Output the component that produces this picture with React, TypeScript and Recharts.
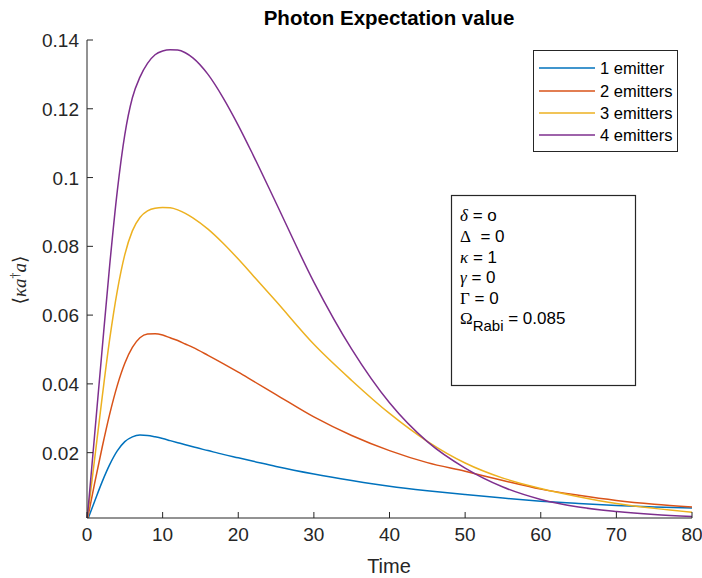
import { LineChart, Line, XAxis, YAxis, Legend } from "recharts";

const AXIS = "#262626";
const COLORS = ["#0072BD", "#D95319", "#EDB120", "#7E2F8E"];
const NAMES = ["1 emitter", "2 emitters", "3 emitters", "4 emitters"];

const times = [0, 1, 2, 3, 4, 5, 6, 7, 8, 9, 10, 11, 12, 13, 14, 16, 18, 20, 22, 25, 30, 35, 40, 45, 50, 55, 60, 65, 70, 75, 80];
const emit1 = [0, 0.0058, 0.0115, 0.0165, 0.0205, 0.0232, 0.0246, 0.0251, 0.025, 0.0246, 0.0241, 0.0235, 0.0229, 0.0223, 0.0217, 0.0206, 0.0195, 0.0185, 0.0175, 0.016, 0.0138, 0.0119, 0.0102, 0.0089, 0.0078, 0.0068, 0.0059, 0.0052, 0.0046, 0.0042, 0.0039];
const emit2 = [0, 0.011, 0.0215, 0.0312, 0.0395, 0.046, 0.0506, 0.0534, 0.0545, 0.0546, 0.0542, 0.0534, 0.0526, 0.0516, 0.0506, 0.0483, 0.0459, 0.0434, 0.0408, 0.0369, 0.0304, 0.025, 0.0206, 0.0171, 0.0146, 0.0119, 0.0094, 0.0076, 0.0061, 0.005, 0.0042];
const emit3 = [0, 0.018, 0.036, 0.053, 0.067, 0.0776, 0.0845, 0.0884, 0.0903, 0.0911, 0.0913, 0.0912, 0.0906, 0.0896, 0.0883, 0.085, 0.0809, 0.0763, 0.0714, 0.064, 0.0515, 0.041, 0.0314, 0.0233, 0.017, 0.0126, 0.0096, 0.0072, 0.0052, 0.0038, 0.0027];
const emit4 = [0, 0.025, 0.05, 0.0745, 0.096, 0.1125, 0.1232, 0.1292, 0.1332, 0.1357, 0.1368, 0.1372, 0.1371, 0.1363, 0.1348, 0.13, 0.1232, 0.1152, 0.1064, 0.0926, 0.0696, 0.0501, 0.0345, 0.0232, 0.0155, 0.01, 0.0064, 0.0042, 0.0029, 0.002, 0.0014];

const xTicks = [0, 10, 20, 30, 40, 50, 60, 70, 80];
const yTicks = [0.02, 0.04, 0.06, 0.08, 0.1, 0.12, 0.14];

const rows = times.map((t, i) => ({ t, e1: emit1[i], e2: emit2[i], e3: emit3[i], e4: emit4[i] }));
const series = NAMES.map((name, i) => ({ key: "e" + (i + 1), name, color: COLORS[i] }));

const font = "'Liberation Sans', Arial, sans-serif";
const serif = "'Liberation Serif', 'DejaVu Serif', serif";

function XTick(props: any) {
  const { x, y, payload } = props;
  return (
    <g>
      <line x1={x} x2={x} y1={y} y2={y - 6} stroke={AXIS} />
      <text x={x} y={y + 23} textAnchor="middle" fill={AXIS} fontSize={19} fontFamily={font}>{payload.value}</text>
    </g>
  );
}

function YTick(props: any) {
  const { x, y, payload } = props;
  return (
    <g>
      <line x1={x} x2={x + 6} y1={y} y2={y} stroke={AXIS} />
      <text x={x - 8} y={y + 7} textAnchor="end" fill={AXIS} fontSize={19} fontFamily={font}>{String(payload.value)}</text>
    </g>
  );
}

function LegendBox(props: any) {
  const items = props.payload || [];
  return (
    <div style={{ border: `1px solid ${AXIS}`, background: "#fff", width: 143, padding: "6px 0 4px 0", fontFamily: font, fontSize: 16.5, color: "#000", whiteSpace: "nowrap" }}>
      {items.map((p: any) => (
        <div key={p.value} style={{ display: "flex", alignItems: "center", height: 22.4 }}>
          <svg width={61} height={4} style={{ marginLeft: 5, flex: "none" }}>
            <line x1={0} x2={56} y1={2} y2={2} stroke={p.color} strokeWidth={1.5} />
          </svg>
          <span style={{ lineHeight: "20px" }}>{p.value}</span>
        </div>
      ))}
    </div>
  );
}

export default function App() {
  return (
    <div style={{ position: "absolute", left: 0, top: 0, width: 702, height: 578, background: "#fff" }}>
      <LineChart width={702} height={578} data={rows} margin={{ top: 40, right: 10, bottom: 0, left: 0 }}>
        <XAxis dataKey="t" type="number" domain={[0, 80]} ticks={xTicks} height={60} stroke={AXIS}
          tickSize={0} tickMargin={0} tickLine={false} tick={<XTick />} />
        <YAxis type="number" domain={[0.001, 0.14]} allowDataOverflow ticks={yTicks} width={87} stroke={AXIS}
          tickSize={0} tickMargin={0} tickLine={false} tick={<YTick />} />
        {series.map((s) => (
          <Line key={s.key} dataKey={s.key} name={s.name} stroke={s.color} strokeWidth={1.5} dot={false}
            type="monotone" isAnimationActive={false} />
        ))}
        <Legend layout="vertical" align="center" verticalAlign="middle" content={<LegendBox />}
          wrapperStyle={{ position: "absolute", left: 533, top: 50, width: 145 }} />
      </LineChart>
      <svg width={702} height={578} style={{ position: "absolute", left: 0, top: 0, pointerEvents: "none" }}>
        <text x={389} y={25} textAnchor="middle" fontSize={20.5} fontWeight="bold" fontFamily={font} fill="#000">Photon Expectation value</text>
        <text x={389} y={573} textAnchor="middle" fontSize={20} fontFamily={font} fill={AXIS}>Time</text>
        <text transform="translate(26,280) rotate(-90)" textAnchor="middle" fontSize={19} fontFamily={serif} fill={AXIS}>
          <tspan>⟨</tspan><tspan fontStyle="italic">κa</tspan><tspan fontSize={12} dy={-7}>†</tspan><tspan fontStyle="italic" dy={7}>a</tspan><tspan>⟩</tspan>
        </text>
        <rect x={451.5} y={195.5} width={184} height={190} fill="#fff" stroke={AXIS} strokeWidth={1.2} />
        <g fontSize={17} fontFamily={font} fill="#000">
          <text x={460} y={221}><tspan fontFamily={serif} fontStyle="italic">δ</tspan> = o</text>
          <text x={460} y={242}><tspan fontFamily={serif}>Δ</tspan>{"\u00a0 = 0"}</text>
          <text x={460} y={263}><tspan fontFamily={serif} fontStyle="italic">κ</tspan> = 1</text>
          <text x={460} y={283}><tspan fontFamily={serif} fontStyle="italic">γ</tspan> = 0</text>
          <text x={460} y={304}><tspan fontFamily={serif}>Γ</tspan> = 0</text>
          <text x={460} y={324}><tspan fontFamily={serif}>Ω</tspan><tspan fontSize={15} dy={7}>Rabi</tspan><tspan dy={-7}> = 0.085</tspan></text>
        </g>
      </svg>
    </div>
  );
}
